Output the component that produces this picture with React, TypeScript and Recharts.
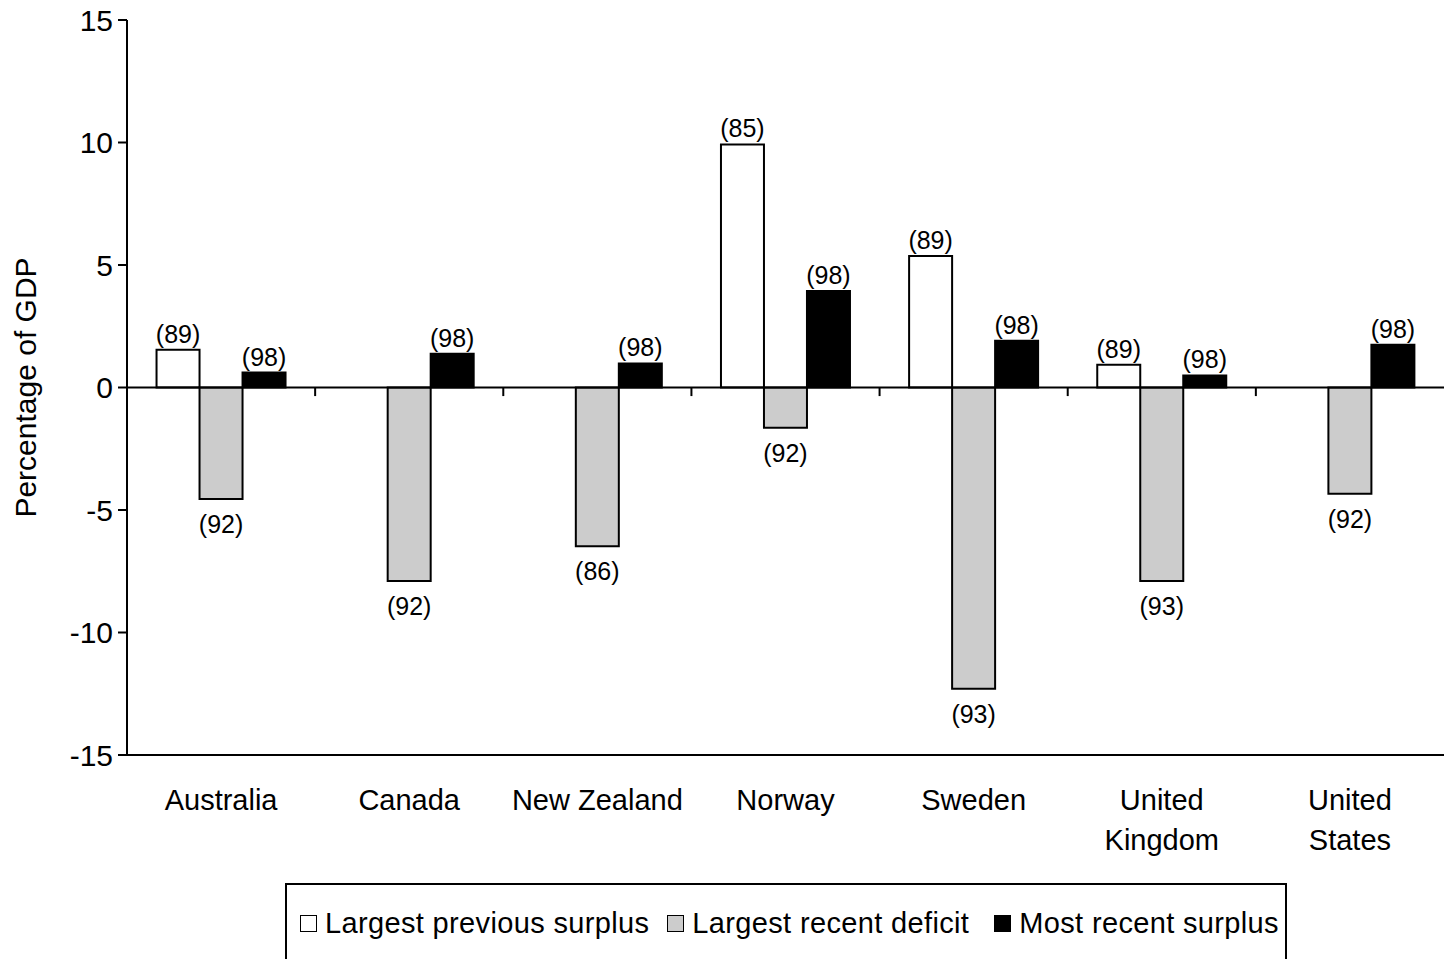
import React from 'react'
import { BarChart, Bar, XAxis, YAxis, ReferenceLine, LabelList, Label } from 'recharts'

const COUNTRIES = ['Australia', 'Canada', 'New Zealand', 'Norway', 'Sweden', 'United Kingdom', 'United States']
const PREV_SURPLUS = [1.54, null, null, 9.92, 5.37, 0.93, null]
const PREV_YEAR = ['89', null, null, '85', '89', '89', null]
const RECENT_DEFICIT = [-4.55, -7.9, -6.48, -1.64, -12.3, -7.9, -4.34]
const DEFICIT_YEAR = ['92', '92', '86', '92', '93', '93', '92']
const RECENT_SURPLUS = [0.61, 1.38, 0.98, 3.94, 1.91, 0.49, 1.75]
const SURPLUS_YEAR = ['98', '98', '98', '98', '98', '98', '98']
const SERIES_NAMES = ['Largest previous surplus', 'Largest recent deficit', 'Most recent surplus']
const SERIES_FILLS = ['#ffffff', '#cccccc', '#000000']
const Y_TICKS = [-15, -10, -5, 0, 5, 10, 15]

const FONT = '"Liberation Sans", Arial, Helvetica, sans-serif'

const data = COUNTRIES.map((c, i) => ({
  country: c,
  prev: PREV_SURPLUS[i],
  prevYear: PREV_YEAR[i],
  deficit: RECENT_DEFICIT[i],
  deficitYear: DEFICIT_YEAR[i],
  recent: RECENT_SURPLUS[i],
  recentYear: SURPLUS_YEAR[i],
}))

// year tag above a surplus bar, below a deficit bar
function yearLabel(below: boolean) {
  return (props: any) => {
    const { x, y, width, height, value } = props
    if (value == null) return null
    const top = Math.min(y, y + height)
    const bottom = Math.max(y, y + height)
    return (
      <text x={x + width / 2} y={below ? bottom + 34 : top - 7} textAnchor="middle"
            fontFamily={FONT} fontSize={25} fill="#000">
        ({value})
      </text>
    )
  }
}

function CountryTick({ x, y, payload }: any) {
  const name = String(payload.value)
  const lines = name.startsWith('United ') ? ['United', name.slice(7)] : [name]
  return (
    <text x={x} y={y + 47} textAnchor="middle" fontFamily={FONT} fontSize={29} fill="#000">
      {lines.map((l, i) => (
        <tspan key={l} x={x} dy={i === 0 ? 0 : 40}>{l}</tspan>
      ))}
    </text>
  )
}

function YTitle({ viewBox }: any) {
  const cx = 25
  const cy = viewBox.y + viewBox.height / 2
  return (
    <text x={cx} y={cy} transform={`rotate(-90 ${cx} ${cy})`} textAnchor="middle"
          dominantBaseline="central" fontFamily={FONT} fontSize={30} fill="#000">
      Percentage of GDP
    </text>
  )
}

export default function App() {
  const isNeg = (vals: (number | null)[]) => vals.every(v => v == null || v <= 0)
  return (
    <div style={{ position: 'absolute', left: 0, top: 0, width: 1450, height: 959, background: '#fff' }}>
      <BarChart width={1450} height={959} data={data}
                margin={{ top: 20, right: 6, left: 0, bottom: 0 }}
                barCategoryGap="15.7%" barGap={0}>
        <XAxis dataKey="country" height={204} axisLine={{ stroke: '#000', strokeWidth: 2 }}
               tickLine={false} tick={<CountryTick />} interval={0} />
        <XAxis xAxisId="top" dataKey="country" orientation="top" height={0}
               tick={false} tickLine={false} axisLine={{ stroke: '#000', strokeWidth: 2 }} />
        <YAxis domain={[-15, 15]} ticks={Y_TICKS} width={127} interval={0}
               axisLine={{ stroke: '#000', strokeWidth: 2 }}
               tickLine={{ stroke: '#000', strokeWidth: 2 }} tickSize={9} tickMargin={5}
               tick={{ fontFamily: FONT, fontSize: 30, fill: '#000' }}>
          <Label content={<YTitle />} />
        </YAxis>
        <YAxis yAxisId="r" orientation="right" domain={[-15, 15]} width={0}
               tick={false} tickLine={false} axisLine={{ stroke: '#000', strokeWidth: 2 }} />
        <Bar dataKey="prev" name={SERIES_NAMES[0]} fill={SERIES_FILLS[0]} stroke="#000" strokeWidth={2}
             isAnimationActive={false}>
          <LabelList dataKey="prevYear" content={yearLabel(isNeg(PREV_SURPLUS))} />
        </Bar>
        <Bar dataKey="deficit" name={SERIES_NAMES[1]} fill={SERIES_FILLS[1]} stroke="#000" strokeWidth={2}
             isAnimationActive={false}>
          <LabelList dataKey="deficitYear" content={yearLabel(isNeg(RECENT_DEFICIT))} />
        </Bar>
        <Bar dataKey="recent" name={SERIES_NAMES[2]} fill={SERIES_FILLS[2]} stroke="#000" strokeWidth={2}
             isAnimationActive={false}>
          <LabelList dataKey="recentYear" content={yearLabel(isNeg(RECENT_SURPLUS))} />
        </Bar>
        <ReferenceLine y={0} stroke="#000" strokeWidth={2} />
        {COUNTRIES.slice(1).map(c => (
          <ReferenceLine key={c} position="start" segment={[{ x: c, y: 0 }, { x: c, y: -0.35 }]}
                         stroke="#000" strokeWidth={2} />
        ))}
      </BarChart>
      <div style={{
        position: 'absolute', left: 285, top: 883, width: 1002, height: 90,
        border: '2px solid #000', boxSizing: 'border-box',
        display: 'flex', alignItems: 'flex-start', paddingTop: 22, paddingLeft: 13,
        fontFamily: FONT, fontSize: 29, letterSpacing: 0.35, color: '#000', whiteSpace: 'nowrap',
      }}>
        {SERIES_NAMES.map((n, i) => (
          <span key={n} style={{ display: 'inline-flex', alignItems: 'center', marginRight: i === 1 ? 25 : 18 }}>
            <span style={{
              display: 'inline-block', width: 17, height: 17, boxSizing: 'border-box',
              border: '1.5px solid #000', background: SERIES_FILLS[i], marginRight: 8,
            }} />
            {n}
          </span>
        ))}
      </div>
    </div>
  )
}
